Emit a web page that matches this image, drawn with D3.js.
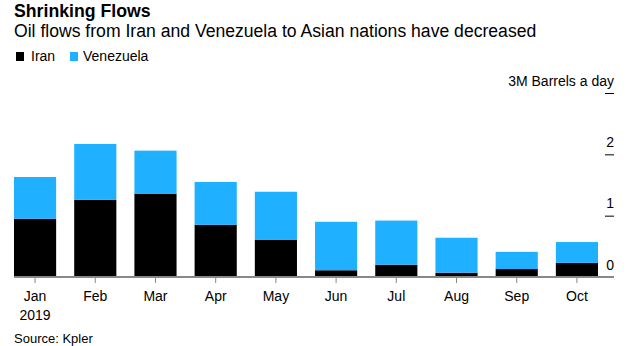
<!DOCTYPE html>
<html>
<head>
<meta charset="utf-8">
<script src="https://cdn.jsdelivr.net/npm/d3@7"></script>
<style>
  body { margin: 0; background: #fff; }
  svg { display: block; font-family: "Liberation Sans", Arial, sans-serif; }
</style>
</head>
<body>
<div class="chart"></div>
<script>
var months = ["Jan", "Feb", "Mar", "Apr", "May", "Jun", "Jul", "Aug", "Sep", "Oct"];
var iran = [0.95, 1.26, 1.36, 0.85, 0.61, 0.11, 0.20, 0.07, 0.13, 0.23];
var venezuela = [0.68, 0.91, 0.70, 0.70, 0.78, 0.79, 0.72, 0.57, 0.28, 0.34];
var yTicks = [0, 1, 2, 3];
var seriesNames = ["Iran", "Venezuela"];
var colors = ["#000000", "#1fb1ff"];

var options = {
    width: 635,
    height: 346
};

var svg = d3.select(".chart").append("svg")
    .attr("width", options.width)
    .attr("height", options.height);

// header
svg.append("text")
    .attr("x", 14).attr("y", 17)
    .attr("font-size", "17.7px").attr("font-weight", "bold")
    .text("Shrinking Flows");

svg.append("text")
    .attr("x", 14).attr("y", 37)
    .attr("font-size", "17.6px")
    .text("Oil flows from Iran and Venezuela to Asian nations have decreased");

// legend
var legend = svg.append("g");
var legendX = [16, 70];
var legendTextX = [31, 83];
seriesNames.forEach(function (name, i) {
    legend.append("rect")
        .attr("x", legendX[i]).attr("y", 52)
        .attr("width", 8).attr("height", 9)
        .attr("fill", colors[i]);
    legend.append("text")
        .attr("x", legendTextX[i]).attr("y", 61)
        .attr("font-size", "14px")
        .text(name);
});

var data = months.map(function (m, i) {
    return { month: m, Iran: iran[i], Venezuela: venezuela[i] };
});

var xScale = d3.scaleBand()
    .domain(months)
    .range([14, 598])
    .paddingInner(0.3)
    .paddingOuter(0);

var yScale = d3.scaleLinear()
    .domain([0, 3])
    .range([277, 93]);

var stack = d3.stack().keys(seriesNames)(data);

svg.selectAll("g.layer")
    .data(stack)
    .enter().append("g")
    .attr("class", "layer")
    .attr("fill", function (d, i) { return colors[i]; })
    .selectAll("rect")
    .data(function (d) { return d; })
    .enter().append("rect")
    .attr("x", function (d) { return xScale(d.data.month); })
    .attr("y", function (d) { return yScale(d[1]); })
    .attr("width", xScale.bandwidth())
    .attr("height", function (d) { return yScale(d[0]) - yScale(d[1]); });

// y axis on the right
var yAxis = d3.axisLeft(yScale)
    .tickValues(yTicks)
    .tickSize(0)
    .tickFormat(function (d) { return d === 3 ? "3M Barrels a day" : d; });

var yG = svg.append("g")
    .attr("transform", "translate(614,0)")
    .call(yAxis);
yG.select(".domain").remove();
yG.selectAll(".tick text")
    .attr("x", 0)
    .attr("dy", "-8")
    .attr("font-family", "Liberation Sans, Arial, sans-serif")
    .attr("font-size", "14px")
    .attr("fill", "#000");
yG.selectAll(".tick")
    .filter(function (d) { return d !== 0; })
    .append("line")
    .attr("x1", -9).attr("x2", 0)
    .attr("stroke", "#000");

// x axis
var xAxis = d3.axisBottom(xScale).tickSize(6).tickSizeOuter(0).tickPadding(8);
var xG = svg.append("g")
    .attr("transform", "translate(0,277)")
    .call(xAxis);
xG.select(".domain").remove();
xG.append("line")
    .attr("x1", 14).attr("x2", 614)
    .attr("stroke", "#888").attr("stroke-width", 2);
xG.selectAll(".tick line").attr("stroke", "#888");
xG.selectAll(".tick text")
    .attr("font-family", "Liberation Sans, Arial, sans-serif")
    .attr("font-size", "14px")
    .attr("fill", "#000");
xG.selectAll(".tick")
    .filter(function (d) { return d === "Jan"; })
    .append("text")
    .attr("y", 43)
    .attr("text-anchor", "middle")
    .attr("font-family", "Liberation Sans, Arial, sans-serif")
    .attr("font-size", "14px")
    .attr("fill", "#000")
    .text("2019");

svg.append("text")
    .attr("x", 14).attr("y", 343)
    .attr("font-size", "13px")
    .text("Source: Kpler");
</script>
</body>
</html>
